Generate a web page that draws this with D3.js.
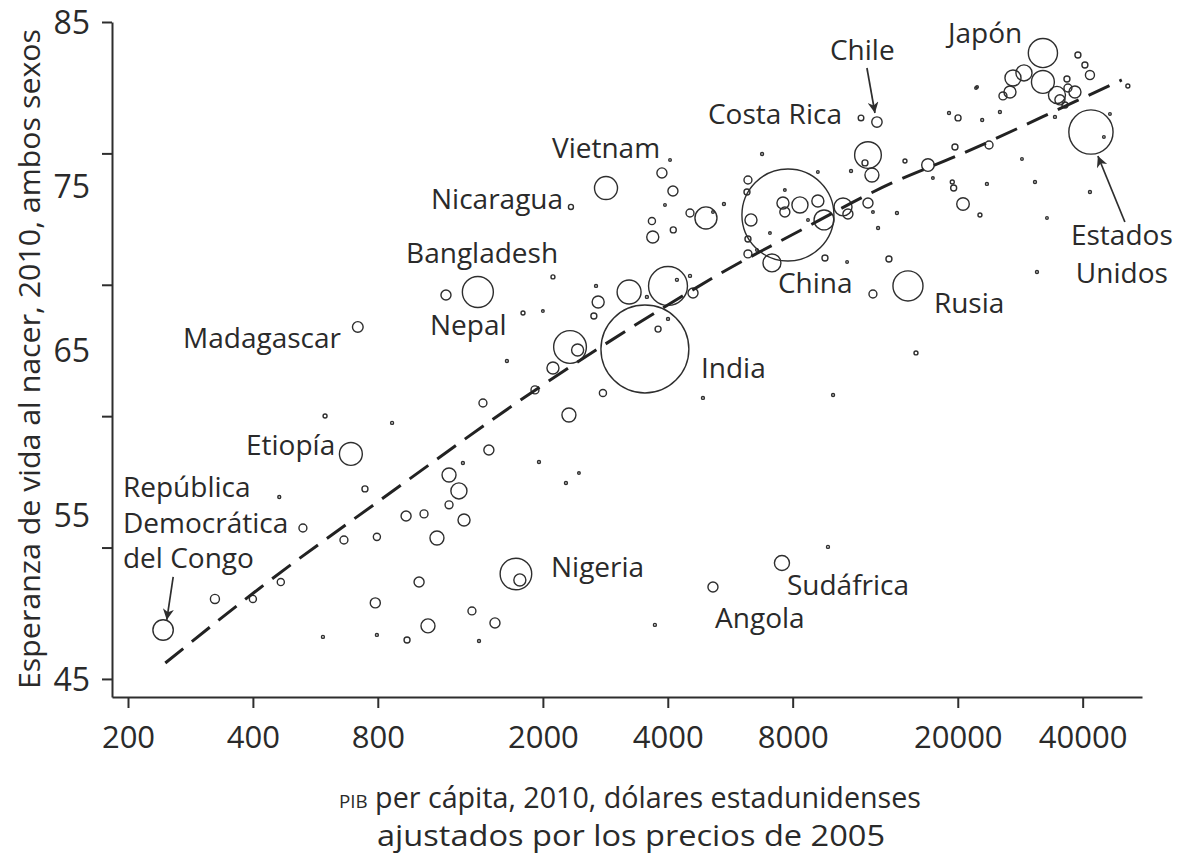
<!DOCTYPE html>
<html>
<head>
<meta charset="utf-8">
<script src="https://cdn.jsdelivr.net/npm/d3@7"></script>
<style>
  body { margin: 0; background: #fff; }
  svg text { font-family: "Open Sans", "Noto Sans", sans-serif; fill: #2a2a2a; }
</style>
</head>
<body>
<svg id="chart" width="1180" height="856"></svg>
<script>
// GDP per capita (2005 US$), life expectancy (years) and population (millions), 2010
const gdp = [243, 324, 400, 467, 463, 528, 597, 590, 689, 745, 663, 796, 789, 796, 866, 716,
  1638, 1914, 1434, 1482, 1283, 1957, 1188, 1255, 1188, 1291, 936, 1034, 1111, 1006, 1722, 1760,
  1057, 1349, 1533, 941, 1403, 2791, 2311, 4862, 2273, 2443, 5140, 7538, 3724, 9731, 10010, 15860,
  4050, 3872, 4116, 2839, 2337, 3938, 5463, 4525, 4944, 3663, 4124, 3680, 2115, 2000, 2686, 2718,
  2654, 3227, 4005, 4208, 4525, 4601, 3562, 3523, 4005, 3790, 2325, 2425, 2115, 1394, 1168, 1791,
  6750, 6242, 6208, 6347, 6242, 6242, 6560, 7052, 7131, 7792, 7580, 7660, 8330, 9200, 9520, 10580,
  10870, 7660, 8710, 12150, 12420, 11060, 9200, 12150, 12490, 12850, 10820, 9570, 13650, 12490,
  12770, 11690, 11950, 14920, 16950, 17420, 14270, 15170, 19690, 19400, 19550, 20590, 22620, 23510,
  22900, 25270, 23790, 22130, 19050, 20030, 28560, 30700, 32810, 41650, 31040, 41880, 45000, 51400,
  32080, 38960, 40500, 41650, 27170, 28880, 32080, 26720, 25700, 34680, 36660, 36860, 38320, 35260,
  36260, 34300, 22260, 5140, 46540];
const life = [47.98, 49.87, 49.87, 50.9, 56.08, 54.19, 61.01, 47.56, 58.7, 56.57, 53.46, 53.65, 49.63, 47.68, 60.59, 66.43,
  64.36, 62.6, 61.8, 58.94, 58.15, 58.21, 57.42, 56.45, 55.6, 54.68, 54.92, 55.05, 53.58, 50.9, 51.39, 51.03,
  48.23, 49.14, 48.41, 47.37, 47.31, 62.41, 61.07, 62.11, 56.93, 57.54, 50.6, 52.06, 48.29, 53.04, 62.29, 64.85,
  76.6, 75.81, 74.71, 74.89, 73.74, 73.86, 73.92, 73.37, 73.07, 72.88, 72.34, 71.91, 69.48, 67.4, 68.93, 67.95,
  67.1, 68.56, 68.93, 69.3, 69.54, 68.5, 68.26, 65.09, 66.92, 66.3, 65.21, 65.03, 63.93, 68.56, 68.38, 67.28,
  76.96, 75.38, 74.65, 72.95, 71.79, 70.88, 71.12, 72.15, 70.33, 73.25, 73.98, 73.43, 73.86, 74.1, 72.95, 73.74,
  73.31, 74.77, 72.95, 76.9, 75.68, 75.93, 75.87, 73.98, 73.43, 72.46, 70.39, 70.63, 70.57, 68.44,
  78.91, 79.16, 76.42, 76.54, 76.29, 75.5, 73.37, 68.93, 77.39, 75.26, 74.89, 73.92, 73.25, 75.14,
  79.03, 79.52, 77.51, 80.98, 79.46, 79.16, 76.66, 75.26, 73.07, 74.65, 69.78, 78.3, 78.0, 81.1,
  83.11, 82.99, 82.38, 81.77, 81.59, 81.9, 81.35, 80.74, 80.5, 80.56, 81.53, 80.98, 80.74, 80.26,
  79.95, 79.22, 81.04, 73.43, 79.4];
const pop = [66, 13, 8, 8, 1.4, 10, 2.5, 1.4, 83, 5.7, 10, 8, 16, 1.4, 1.4, 18,
  1.4, 10, 10, 16, 1.4, 1.4, 31, 41, 10, 23, 16, 10, 31, 16, 158, 23,
  31, 10, 16, 5.7, 1.4, 8, 31, 1.4, 1.4, 1, 16, 36, 1.4, 1.4, 1.4, 2.5,
  1, 16, 16, 84, 4, 1, 1.4, 10, 77, 8, 5.7, 23, 2.5, 1, 1.4, 23,
  5.7, 91, 240, 1.4, 1.4, 16, 1.4, 1225, 1.4, 5.7, 170, 23, 23, 152, 16, 2.5,
  1.4, 10, 5.7, 23, 5.7, 10, 1, 1, 51, 1341, 23, 16, 41, 23, 63, 51,
  16, 1, 1, 113, 31, 1.4, 1, 16, 1, 1.4, 1, 5.7, 5.7, 10,
  17, 5, 5.7, 2.5, 25, 1, 1.4, 143, 5.7, 2.5, 5.7, 25, 2.5, 1.4,
  1.4, 1.4, 10, 1, 1.4, 5.7, 1, 1.4, 1, 1.4, 1.4, 310, 1, 2.5,
  135, 5.7, 5.7, 13, 41, 41, 83, 23, 10, 46, 5.7, 10, 23, 16,
  5.7, 1.4, 1, 1, 1];

// Smoothed trend of life expectancy against income
const trendGdp = [246, 416, 800, 1968, 4000, 5650, 8000, 13880, 20000, 40000, 49700];
const trendLife = [45.97, 50.54, 55.78, 62.78, 67.77, 70.02, 72.06, 75.2, 76.87, 80.37, 81.47];

// Axis ticks
const xTickValues = [200, 400, 800, 2000, 4000, 8000, 20000, 40000];
const yTickValues = [85, 77, 69, 61, 53, 45];
const yLabelValues = [85, 75, 65, 55, 45];

// Country annotations
const labelText = ["Japón", "Chile", "Costa Rica", "Vietnam", "Nicaragua", "Bangladesh", "Nepal",
  "Madagascar", "India", "China", "Rusia", "Estados", "Unidos", "Etiopía", "República",
  "Democrática", "del Congo", "Nigeria", "Sudáfrica", "Angola"];
const labelGdp = [18940, 9840, 5000, 2103, 1075, 936, 1069, 271.5, 4810, 7370, 17520, 49720, 49720,
  385, 194.5, 194.5, 194.5, 2092, 7750, 5200];
const labelLife = [83.72, 82.69, 78.79, 76.72, 73.62, 70.33, 65.94, 65.15, 63.33, 68.5, 67.28, 71.42, 69.1,
  58.64, 56.08, 53.89, 51.76, 51.21, 50.11, 48.1];
const labelAnchor = ["start", "start", "start", "start", "start", "start", "start", "start", "start",
  "start", "start", "middle", "middle", "start", "start", "start", "start", "start", "start", "start"];

// Pointer arrows: from (gdp, life) to (gdp, life)
const arrowFromGdp = [12080, 50560, 257];
const arrowFromLife = [82.2, 72.82, 51.21];
const arrowToGdp = [12630, 43530, 248];
const arrowToLife = [79.46, 76.84, 48.59];

const svg = d3.select("#chart");
const ink = "#2e2e2e";

const x = d3.scaleLog().domain([183, 55600]).range([112, 1142]);
const y = d3.scaleLinear().domain([43.9, 85]).range([697, 22]);
const r = d3.scaleSqrt().domain([0, 1341]).range([0, 46]);

// Axes
const xAxis = svg.append("g").attr("transform", "translate(0,697)")
  .call(d3.axisBottom(x).tickValues(xTickValues).tickFormat(d3.format("d")).tickSize(11).tickSizeOuter(0));
xAxis.select(".domain").attr("stroke", ink).attr("stroke-width", 2);
xAxis.selectAll(".tick line").attr("stroke", ink).attr("stroke-width", 2);
xAxis.selectAll(".tick text").attr("y", 51).attr("dy", 0).style("font-size", "31px");

const yAxis = svg.append("g").attr("transform", "translate(112,0)")
  .call(d3.axisLeft(y).tickValues(yTickValues).tickFormat("").tickSize(10).tickSizeOuter(0));
yAxis.select(".domain").attr("stroke", ink).attr("stroke-width", 2);
yAxis.selectAll(".tick line").attr("stroke", ink).attr("stroke-width", 2);

const yLabels = svg.append("g").attr("transform", "translate(112,0)")
  .call(d3.axisLeft(y).tickValues(yLabelValues).tickFormat(d3.format("d")).tickSize(0).tickPadding(22));
yLabels.select(".domain").remove();
yLabels.selectAll(".tick text").attr("dy", "0.36em").style("font-size", "32px");

// Axis titles
svg.append("text")
  .attr("transform", "translate(40,359) rotate(-90)")
  .attr("text-anchor", "middle")
  .attr("textLength", 660)
  .attr("lengthAdjust", "spacingAndGlyphs")
  .style("font-size", "29px")
  .text("Esperanza de vida al nacer, 2010, ambos sexos");

const xt = svg.append("text").attr("x", 630).attr("y", 808).attr("text-anchor", "middle")
  .attr("textLength", 582).attr("lengthAdjust", "spacingAndGlyphs")
  .style("font-size", "29px");
xt.append("tspan").style("font-size", "19px").text("PIB");
xt.append("tspan").text(" per cápita, 2010, dólares estadunidenses");
svg.append("text").attr("x", 631).attr("y", 846).attr("text-anchor", "middle")
  .attr("textLength", 508).attr("lengthAdjust", "spacingAndGlyphs")
  .style("font-size", "30px")
  .text("ajustados por los precios de 2005");

// Bubbles
const idx = d3.range(gdp.length).sort((a, b) => pop[b] - pop[a]);
svg.append("g")
  .selectAll("circle")
  .data(idx)
  .join("circle")
  .attr("cx", i => x(gdp[i]))
  .attr("cy", i => y(life[i]))
  .attr("r", i => Math.max(1.3, r(pop[i])))
  .attr("fill", "none")
  .attr("stroke", ink)
  .attr("stroke-width", 1.4);

// Trend line
svg.append("path")
  .datum(d3.range(trendGdp.length))
  .attr("d", d3.line().x(i => x(trendGdp[i])).y(i => y(trendLife[i])).curve(d3.curveMonotoneX))
  .attr("fill", "none")
  .attr("stroke", "#222")
  .attr("stroke-width", 3)
  .attr("stroke-dasharray", "23,11");

// Arrowhead marker
svg.append("defs").append("marker")
  .attr("id", "head")
  .attr("viewBox", "0 0 10 10")
  .attr("refX", 10).attr("refY", 5)
  .attr("markerWidth", 16).attr("markerHeight", 11)
  .attr("markerUnits", "userSpaceOnUse")
  .attr("orient", "auto")
  .append("path").attr("d", "M0,0 L10,5 L0,10 L3,5 Z").attr("fill", ink);

svg.append("g")
  .selectAll("line")
  .data(d3.range(arrowFromGdp.length))
  .join("line")
  .attr("x1", i => x(arrowFromGdp[i]))
  .attr("y1", i => y(arrowFromLife[i]))
  .attr("x2", i => x(arrowToGdp[i]))
  .attr("y2", i => y(arrowToLife[i]))
  .attr("stroke", ink)
  .attr("stroke-width", 1.7)
  .attr("marker-end", "url(#head)");

// Country labels
svg.append("g")
  .selectAll("text")
  .data(d3.range(labelText.length))
  .join("text")
  .attr("x", i => x(labelGdp[i]))
  .attr("y", i => y(labelLife[i]))
  .attr("text-anchor", i => labelAnchor[i])
  .style("font-size", "28px")
  .text(i => labelText[i]);
</script>
</body>
</html>
